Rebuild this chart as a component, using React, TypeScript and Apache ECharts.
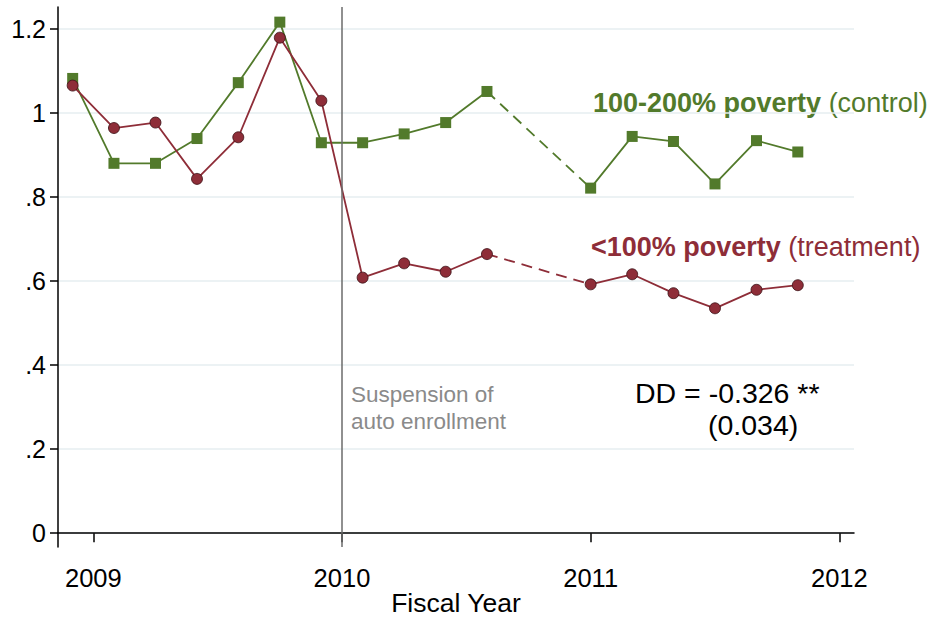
import React, { useEffect, useRef } from "react";
import * as echarts from "echarts";

// Bimonthly periods (fiscal year, decimal)
const periods = [
  2008.917, 2009.083, 2009.25, 2009.417, 2009.583, 2009.75, 2009.917,
  2010.083, 2010.25, 2010.417, 2010.583,
  2011.0, 2011.167, 2011.333, 2011.5, 2011.667, 2011.833,
];

// 100-200% poverty (control group)
const controlValues = [
  1.082, 0.88, 0.88, 0.939, 1.072, 1.216, 0.929,
  0.929, 0.95, 0.977, 1.051,
  0.821, 0.944, 0.932, 0.831, 0.934, 0.907,
];

// <100% poverty (treatment group)
const treatmentValues = [
  1.065, 0.964, 0.977, 0.843, 0.942, 1.179, 1.029,
  0.608, 0.642, 0.622, 0.664,
  0.592, 0.616, 0.571, 0.535, 0.579, 0.59,
];

// index where the data gap begins (last observed point before the gap)
const gapStart = 10;

const xTicks = [2009, 2010, 2011, 2012];
const yTicks = [0, 0.2, 0.4, 0.6, 0.8, 1.0, 1.2];
const policyDate = 2010;

const GREEN = "#527a2b";
const RED = "#8e2d38";
const FONT = "'Liberation Sans', Arial, Helvetica, sans-serif";

function solidData(values: number[]) {
  const out: any[] = [];
  values.forEach((v, i) => {
    out.push([periods[i], v]);
    if (i === gapStart) out.push([(periods[i] + periods[i + 1]) / 2, "-"]);
  });
  return out;
}

function dashedData(values: number[]) {
  return [
    [periods[gapStart], values[gapStart]],
    [periods[gapStart + 1], values[gapStart + 1]],
  ];
}

function yLabel(v: number) {
  const r = Math.round(v * 10) / 10;
  if (r === 0) return "0";
  if (r === 1) return "1";
  const s = r.toFixed(1);
  return s.startsWith("0") ? s.slice(1) : s;
}

export default function App() {
  const ref = useRef<HTMLDivElement>(null);

  useEffect(() => {
    if (!ref.current) return;
    const chart = echarts.init(ref.current, null, { renderer: "svg" });

    chart.setOption({
      animation: false,
      backgroundColor: "#ffffff",
      textStyle: { fontFamily: FONT },
      grid: {
        left: 58,
        right: 81,
        top: 7,
        bottom: 72,
        containLabel: false,
        outerBoundsMode: "none",
      },
      xAxis: {
        type: "value",
        min: 2008.858,
        max: 2012.059,
        axisLine: { show: true, lineStyle: { color: "#000", width: 1.5 } },
        axisTick: {
          show: true,
          length: 9,
          customValues: xTicks,
          lineStyle: { color: "#000", width: 1.5 },
        },
        axisLabel: {
          customValues: xTicks,
          color: "#000",
          fontSize: 25.5,
          margin: 18,
          fontFamily: FONT,
          formatter: (v: number) => String(Math.round(v)),
        },
        splitLine: { show: false },
      },
      yAxis: {
        type: "value",
        min: -0.033,
        max: 1.252,
        axisLine: { show: true, lineStyle: { color: "#000", width: 1.5 } },
        axisTick: {
          show: true,
          length: 8,
          customValues: yTicks,
          lineStyle: { color: "#000", width: 1.5 },
        },
        axisLabel: {
          customValues: yTicks,
          color: "#000",
          fontSize: 25,
          margin: 12,
          fontFamily: FONT,
          formatter: yLabel,
        },
        splitLine: {
          show: true,
          lineStyle: { color: "#e6eef1", width: 1.5 },
        },
      },
      series: [
        {
          type: "line",
          data: solidData(controlValues),
          symbol: "rect",
          symbolSize: 11,
          itemStyle: { color: GREEN },
          lineStyle: { color: GREEN, width: 1.8 },
          connectNulls: false,
          z: 3,
          markLine: {
            silent: true,
            symbol: "none",
            label: { show: false },
            lineStyle: { color: "#6b6b6b", width: 1.5, type: "solid" },
            data: [{ xAxis: policyDate }],
          },
        },
        {
          type: "line",
          data: dashedData(controlValues),
          symbol: "none",
          lineStyle: { color: GREEN, width: 1.8, type: [11, 7] },
          z: 2,
        },
        {
          type: "line",
          data: solidData(treatmentValues),
          symbol: "circle",
          symbolSize: 11,
          itemStyle: { color: RED, borderColor: "#3a1015", borderWidth: 0.8 },
          lineStyle: { color: RED, width: 1.8 },
          connectNulls: false,
          z: 4,
        },
        {
          type: "line",
          data: dashedData(treatmentValues),
          symbol: "none",
          lineStyle: { color: RED, width: 1.8, type: [11, 7] },
          z: 2,
        },
      ],
      graphic: [
        {
          type: "text",
          x: 456,
          y: 603,
          style: {
            text: "Fiscal Year",
            fontSize: 26.5,
            fill: "#000",
            fontFamily: FONT,
            align: "center",
            verticalAlign: "middle",
          },
        },
        {
          type: "text",
          left: 593,
          top: 89,
          style: {
            text: "{b|100-200% poverty }{n|(control)}",
            rich: {
              b: { fontSize: 27, fontWeight: "bold", fill: GREEN, fontFamily: FONT },
              n: { fontSize: 27, fill: GREEN, fontFamily: FONT },
            },
          },
        },
        {
          type: "text",
          left: 591,
          top: 233,
          style: {
            text: "{b|<100% poverty }{n|(treatment)}",
            rich: {
              b: { fontSize: 27, fontWeight: "bold", fill: RED, fontFamily: FONT },
              n: { fontSize: 27, fill: RED, fontFamily: FONT },
            },
          },
        },
        {
          type: "text",
          left: 351,
          top: 381,
          style: {
            text: "Suspension of\nauto enrollment",
            fontSize: 22.5,
            lineHeight: 27,
            fill: "#8a8a8a",
            fontFamily: FONT,
          },
        },
        {
          type: "text",
          left: 635,
          top: 378,
          style: {
            text: "DD = -0.326 **",
            fontSize: 28.5,
            fill: "#000",
            fontFamily: FONT,
          },
        },
        {
          type: "text",
          left: 708,
          top: 410,
          style: {
            text: "(0.034)",
            fontSize: 28.5,
            fill: "#000",
            fontFamily: FONT,
          },
        },
      ],
    });

    return () => chart.dispose();
  }, []);

  return (
    <div
      ref={ref}
      style={{ position: "fixed", left: 0, top: 0, width: 935, height: 619 }}
    />
  );
}
